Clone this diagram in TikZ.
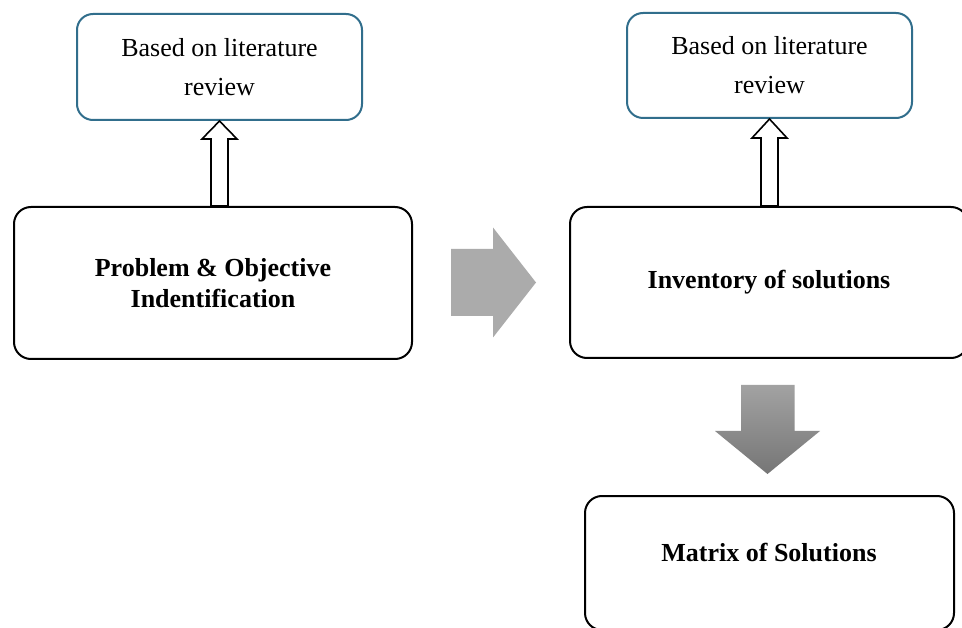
\documentclass[tikz,border=0pt]{standalone}
\usepackage{fontspec}
\setmainfont{Liberation Serif}
\usetikzlibrary{calc}
\definecolor{litblue}{RGB}{49,110,140}
\definecolor{flowgray}{RGB}{171,171,171}
\definecolor{shadetop}{RGB}{162,162,162}
\definecolor{shadebottom}{RGB}{118,118,118}
\begin{document}
\begin{tikzpicture}[x=1pt,y=-1pt,
  litbox/.style={draw=litblue, line width=2pt, rounded corners=16pt, align=center,
    font=\fontsize{26}{39}\selectfont, inner sep=0pt},
  stagebox/.style={draw=black, line width=2pt, rounded corners=17pt, align=center,
    font=\fontsize{26}{31}\selectfont\bfseries, inner sep=0pt},
  stagetext/.style={align=center, font=\fontsize{26}{31}\selectfont\bfseries, inner sep=0pt},
  hollowarrow/.style={draw=black, line width=1.6pt, fill=white, line join=miter},
  grayarrow/.style={fill=flowgray, draw=none}]
\clip (0,0) rectangle (962,628);
\fill[white] (0,0) rectangle (962,628);

% literature boxes
\node[litbox, minimum width=285pt, minimum height=106pt] (lit1) at (219.5,67) {Based on literature\\review};
\node[litbox, minimum width=285pt, minimum height=105pt] (lit2) at (769.5,65.5) {Based on literature\\review};

% stage boxes
\node[stagebox, minimum width=398pt, minimum height=152pt] (prob) at (213,283) {Problem \& Objective\\Indentification};
\node[stagebox, minimum width=398pt, minimum height=151pt] (inv) at (769,282.5) {Inventory of solutions};
\node[stagebox, minimum width=369pt, minimum height=134pt] (matrix) at (769.5,563) {};
\node[stagetext] (matrixlabel) at (769,553) {Matrix of Solutions};

% hollow arrows pointing up to the literature boxes
\draw[hollowarrow] (lit1.south) -- ($(lit1.south)+(17.5,18)$) -- ($(lit1.south)+(8.5,18)$)
  -- ($(lit1.south |- prob.north)+(8.5,0)$) -- ($(lit1.south |- prob.north)+(-8.5,0)$)
  -- ($(lit1.south)+(-8.5,18)$) -- ($(lit1.south)+(-17.5,18)$) -- cycle;
\draw[hollowarrow] (lit2.south) -- ($(lit2.south)+(17.5,19)$) -- ($(lit2.south)+(8.5,19)$)
  -- ($(lit2.south |- inv.north)+(8.5,0)$) -- ($(lit2.south |- inv.north)+(-8.5,0)$)
  -- ($(lit2.south)+(-8.5,19)$) -- ($(lit2.south)+(-17.5,19)$) -- cycle;

% grey block arrows between the stages
\coordinate (rtail) at (451,282.5);
\coordinate (rtip) at (536,282.5);
\fill[grayarrow] ($(rtail)+(0,-33.5)$) -- ($(rtail)+(42,-33.5)$) -- ($(rtail)+(42,-55)$)
  -- (rtip) -- ($(rtail)+(42,55)$) -- ($(rtail)+(42,33.5)$) -- ($(rtail)+(0,33.5)$) -- cycle;

\coordinate (dtail) at (767.5,385);
\coordinate (dtip) at (767.5,474);
\shade[top color=shadetop, bottom color=shadebottom]
  ($(dtail)+(-26.5,0)$) -- ($(dtail)+(27,0)$) -- ($(dtail)+(27,46)$) -- ($(dtail)+(52.5,46)$)
  -- (dtip) -- ($(dtail)+(-52.5,46)$) -- ($(dtail)+(-26.5,46)$) -- cycle;
\end{tikzpicture}
\end{document}
